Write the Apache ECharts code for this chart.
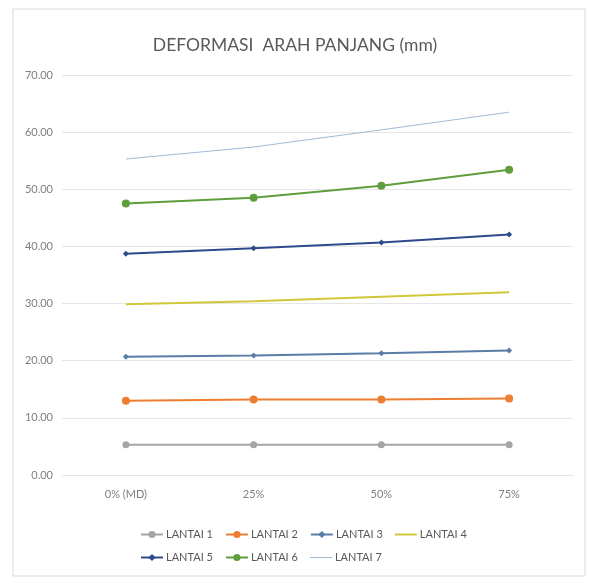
<!DOCTYPE html>
<html>
<head>
<meta charset="utf-8">
<script src="https://cdn.jsdelivr.net/npm/echarts@6/dist/echarts.min.js"></script>
<style>
  html, body { margin: 0; padding: 0; background: #fff; }
  #chart { width: 590px; height: 578px; }
</style>
</head>
<body>
<div id="chart"></div>
<script>
// kategori sumbu x
var categories = ['0% (MD)', '25%', '50%', '75%']
var seriesNames = ['LANTAI 1', 'LANTAI 2', 'LANTAI 3', 'LANTAI 4', 'LANTAI 5', 'LANTAI 6', 'LANTAI 7']

// nilai deformasi (mm)
var lantai1 = [5.3, 5.3, 5.3, 5.3]
var lantai2 = [13.0, 13.2, 13.2, 13.4]
var lantai3 = [20.7, 20.9, 21.3, 21.8]
var lantai4 = [29.9, 30.4, 31.2, 32.0]
var lantai5 = [38.7, 39.7, 40.7, 42.1]
var lantai6 = [47.5, 48.5, 50.6, 53.4]
var lantai7 = [55.3, 57.4, 60.4, 63.5]

var yTicks = [0, 10, 20, 30, 40, 50, 60, 70]

var allData = [lantai1, lantai2, lantai3, lantai4, lantai5, lantai6, lantai7]
var colors = ['#A5A5A5', '#ED7D31', '#5A7DA6', '#D2C63A', '#2E4A8C', '#5F9E3C', '#9FBAD9']
var symbols = ['circle', 'circle', 'diamond', 'none', 'diamond', 'circle', 'none']
var symbolSizes = [7, 8, 6, 0, 6, 8, 0]
var widths = [2, 2, 2, 2, 2, 2, 1]

var font = 'Lato, "Open Sans", sans-serif'

var series = seriesNames.map(function (name, i) {
    return {
        name: name,
        type: 'line',
        data: allData[i],
        color: colors[i],
        symbol: symbols[i],
        symbolSize: symbolSizes[i],
        showSymbol: symbols[i] !== 'none',
        lineStyle: { width: widths[i], color: colors[i] },
        itemStyle: { color: colors[i] },
        animation: false
    }
})

// seri tanpa penanda: ikon legenda hanya garis
var legendData = seriesNames.map(function (name, i) {
    if (symbols[i] !== 'none') return { name: name }
    return { name: name, icon: widths[i] > 1 ? 'path://M0,0 L22,0 L22,2 L0,2 Z' : 'path://M0,0 L22,0 L22,1 L0,1 Z' }
})

var chart = echarts.init(document.getElementById('chart'))
chart.setOption({
    animation: false,
    title: {
        text: 'DEFORMASI  ARAH PANJANG (mm)',
        left: 'center',
        top: 31,
        textStyle: { fontSize: 17.5, fontWeight: 'normal', color: '#595959', fontFamily: font }
    },
    graphic: [{
        type: 'rect',
        shape: { x: 13, y: 9, width: 572, height: 567 },
        style: { fill: 'none', stroke: '#D9D9D9', lineWidth: 1 },
        silent: true
    }],
    grid: { left: 62, right: 17, top: 75, bottom: 103 },
    legend: {
        data: legendData,
        left: 135,
        top: 524,
        width: 345,
        itemWidth: 22,
        itemHeight: 9,
        itemGap: 12,
        textStyle: { fontSize: 11, color: '#595959', fontFamily: font, padding: [0, 0, 0, -2] }
    },
    xAxis: {
        type: 'category',
        data: categories,
        boundaryGap: true,
        axisLine: { lineStyle: { color: '#E6E6E6' } },
        axisTick: { show: false },
        axisLabel: { fontSize: 11, color: '#7F7F7F', fontFamily: font, margin: 14 }
    },
    yAxis: {
        type: 'value',
        min: yTicks[0],
        max: yTicks[yTicks.length - 1],
        interval: 10,
        axisLine: { show: false },
        axisTick: { show: false },
        splitLine: { lineStyle: { color: '#E6E6E6' } },
        axisLabel: {
            fontSize: 11, color: '#7F7F7F', fontFamily: font, margin: 9,
            formatter: function (v) { return v.toFixed(2) }
        }
    },
    series: series
})
</script>
</body>
</html>
